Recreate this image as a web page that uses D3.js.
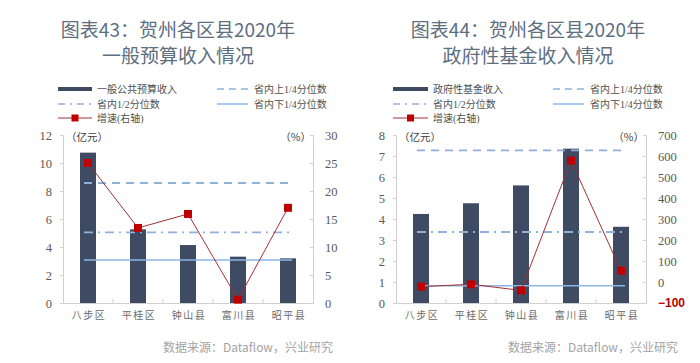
<!DOCTYPE html>
<html>
<head>
<meta charset="utf-8">
<script src="https://cdn.jsdelivr.net/npm/d3@7"></script>
<style>
  body { margin: 0; background: #fff; }
  svg { display: block; }
  .title { font-family: "Noto Sans CJK SC", "Noto Sans", sans-serif; font-size: 19px; fill: #5d6e7f; text-anchor: middle; }
  .legend text { font-family: "Liberation Serif", "Noto Sans CJK SC", serif; font-size: 10px; fill: #505050; }
  .unit { font-family: "Noto Sans CJK SC", sans-serif; font-size: 10.5px; fill: #404040; }
  .source { font-family: "Noto Sans CJK SC", "Noto Sans", sans-serif; font-size: 12px; fill: #a3a3a3; text-anchor: end; }
</style>
</head>
<body>
<script>
// ---- data ----
const districts = ['八步区', '平桂区', '钟山县', '富川县', '昭平县'];

const budgetIncome = [10.74, 5.26, 4.14, 3.31, 3.19];     // 亿元
const budgetGrowth = [25.0, 13.4, 15.9, 0.6, 17.0];       // %
const budgetQuartiles = [8.57, 5.04, 3.07];               // upper, median, lower
const budgetLeftTicks = [0, 2, 4, 6, 8, 10, 12];
const budgetRightTicks = [0, 5, 10, 15, 20, 25, 30];

const fundIncome = [4.24, 4.75, 5.6, 7.35, 3.63];
const fundGrowth = [-22, -11, -40, 578, 54];
const fundQuartiles = [7.27, 3.38, 0.82];
const fundLeftTicks = [0, 1, 2, 3, 4, 5, 6, 7, 8];
const fundRightTicks = [-100, 0, 100, 200, 300, 400, 500, 600, 700];

const W = 700, H = 363;
const BAR_COLOR = '#3e4b63';
const LINE_COLOR = '#a33034';
const MARK_COLOR = '#c00000';
const AXIS_COLOR = '#d0d0d0';

const svg = d3.select('body').append('svg')
    .attr('width', W)
    .attr('height', H);

function drawChart(cfg) {
    const g = svg.append('g');
    const m = cfg.plot; // left, right, top, bottom

    // titles
    cfg.titles.forEach((t, i) => {
        g.append('text').attr('class', 'title')
            .attr('x', cfg.titleX).attr('y', 37 + i * 26)
            .text(t);
    });

    const x = d3.scaleBand().domain(districts).range([m.left, m.right]);
    const yL = d3.scaleLinear().domain(d3.extent(cfg.leftTicks)).range([m.bottom, m.top]);
    const yR = d3.scaleLinear().domain(d3.extent(cfg.rightTicks)).range([m.bottom, m.top]);

    // axes
    const leftAxis = g.append('g').attr('transform', `translate(${m.left},0)`)
        .call(d3.axisLeft(yL).tickValues(cfg.leftTicks).tickSize(3).tickPadding(8).tickFormat(d3.format('d')));
    const rightAxis = g.append('g').attr('transform', `translate(${m.right},0)`)
        .call(d3.axisRight(yR).tickValues(cfg.rightTicks).tickSize(-3).tickPadding(12).tickFormat(d3.format('d')));
    const bottomAxis = g.append('g').attr('transform', `translate(0,${m.bottom})`)
        .call(d3.axisBottom(x).tickSize(0).tickPadding(9));

    [leftAxis, rightAxis, bottomAxis].forEach(a => {
        a.select('.domain').attr('stroke', AXIS_COLOR);
        a.selectAll('.tick line').attr('stroke', AXIS_COLOR);
    });
    [leftAxis, rightAxis].forEach(a => {
        a.selectAll('.tick text')
            .style('font-family', '"Liberation Serif", "DejaVu Serif", serif')
            .style('font-size', '12.5px')
            .style('fill', '#595959');
    });
    bottomAxis.selectAll('.tick text')
        .style('font-family', '"Noto Sans CJK SC", sans-serif')
        .style('font-size', '10px')
        .style('letter-spacing', '1.5px')
        .style('fill', '#6a6a6a')
        .attr('dx', '0.1em');
    // category separator ticks
    bottomAxis.selectAll('.sep')
        .data(districts.slice(1))
        .enter().append('line')
        .attr('x1', d => x(d)).attr('x2', d => x(d))
        .attr('y1', 0).attr('y2', -4)
        .attr('stroke', AXIS_COLOR);

    if (cfg.redNegative) {
        rightAxis.selectAll('.tick text')
            .filter(d => d < 0)
            .style('fill', '#c00000')
            .style('font-family', '"Liberation Sans", Arial, sans-serif')
            .style('font-weight', 'bold')
            .style('font-size', '12px');
    }

    // units
    g.append('text').attr('class', 'unit').attr('x', m.left + 3).attr('y', m.top + 6).text('（亿元）');
    g.append('text').attr('class', 'unit').attr('x', m.right - 2).attr('y', m.top + 6)
        .attr('text-anchor', 'end').text('（%）');

    // bars
    const bw = 16;
    g.append('g').selectAll('rect')
        .data(cfg.income)
        .enter().append('rect')
        .attr('x', (d, i) => x(districts[i]) + x.bandwidth() / 2 - bw / 2)
        .attr('y', d => yL(d))
        .attr('width', bw)
        .attr('height', d => yL(0) - yL(d))
        .attr('fill', BAR_COLOR);

    // quartile lines
    const x0 = x(districts[0]) + x.bandwidth() / 2;
    const x1 = x(districts[districts.length - 1]) + x.bandwidth() / 2;
    const qStyles = [
        { dash: '8,6', color: '#8fb1da', width: 1.8 },
        { dash: '9,5,2,5', color: '#8fb1da', width: 1.8 },
        { dash: null, color: '#8db6e4', width: 1.6 }
    ];
    g.append('g').selectAll('line')
        .data(cfg.quartiles)
        .enter().append('line')
        .attr('x1', x0 - 4).attr('x2', x1 + 4)
        .attr('y1', d => yL(d)).attr('y2', d => yL(d))
        .attr('stroke', (d, i) => qStyles[i].color)
        .attr('stroke-width', (d, i) => qStyles[i].width)
        .attr('stroke-dasharray', (d, i) => qStyles[i].dash);

    // growth line
    const line = d3.line()
        .x((d, i) => x(districts[i]) + x.bandwidth() / 2)
        .y(d => yR(d));
    g.append('path')
        .datum(cfg.growth)
        .attr('d', line)
        .attr('fill', 'none')
        .attr('stroke', LINE_COLOR)
        .attr('stroke-width', 1);
    const ms = 8;
    g.append('g').selectAll('rect')
        .data(cfg.growth)
        .enter().append('rect')
        .attr('x', (d, i) => x(districts[i]) + x.bandwidth() / 2 - ms / 2)
        .attr('y', d => yR(d) - ms / 2)
        .attr('width', ms).attr('height', ms)
        .attr('fill', MARK_COLOR);

    // legend
    const lg = g.append('g').attr('class', 'legend');
    const L = cfg.legend;
    const rows = [89, 104, 118];
    lg.append('rect').attr('x', L.c1).attr('y', rows[0] - 2).attr('width', L.sw).attr('height', 4).attr('fill', BAR_COLOR);
    lg.append('text').attr('x', L.c1 + L.sw + 5).attr('y', rows[0] + 3.5).text(cfg.barLabel);
    lg.append('line').attr('x1', L.c2).attr('x2', L.c2 + 31).attr('y1', rows[0]).attr('y2', rows[0])
        .attr('stroke', qStyles[0].color).attr('stroke-width', 1.5).attr('stroke-dasharray', '7,5');
    lg.append('text').attr('x', L.c2 + 37).attr('y', rows[0] + 3.5).text('省内上1/4分位数');
    lg.append('line').attr('x1', L.c1).attr('x2', L.c1 + L.sw).attr('y1', rows[1]).attr('y2', rows[1])
        .attr('stroke', qStyles[1].color).attr('stroke-width', 1.5).attr('stroke-dasharray', '7,5,2,5');
    lg.append('text').attr('x', L.c1 + L.sw + 5).attr('y', rows[1] + 3.5).text('省内1/2分位数');
    lg.append('line').attr('x1', L.c2).attr('x2', L.c2 + 31).attr('y1', rows[1]).attr('y2', rows[1])
        .attr('stroke', qStyles[2].color).attr('stroke-width', 1.5);
    lg.append('text').attr('x', L.c2 + 37).attr('y', rows[1] + 3.5).text('省内下1/4分位数');
    lg.append('line').attr('x1', L.c1).attr('x2', L.c1 + L.sw).attr('y1', rows[2]).attr('y2', rows[2])
        .attr('stroke', LINE_COLOR).attr('stroke-width', 1);
    lg.append('rect').attr('x', L.c1 + L.sw / 2 - 3.5).attr('y', rows[2] - 3.5).attr('width', 7).attr('height', 7).attr('fill', MARK_COLOR);
    lg.append('text').attr('x', L.c1 + L.sw + 5).attr('y', rows[2] + 3.5).text('增速(右轴)');

    // source
    g.append('text').attr('class', 'source').attr('x', cfg.sourceX).attr('y', 352)
        .text('数据来源：Dataflow，兴业研究');
}

drawChart({
    titles: ['图表43：贺州各区县2020年', '一般预算收入情况'],
    titleX: 178,
    plot: { left: 63, right: 313, top: 135, bottom: 303 },
    income: budgetIncome,
    growth: budgetGrowth,
    quartiles: budgetQuartiles,
    leftTicks: budgetLeftTicks,
    rightTicks: budgetRightTicks,
    barLabel: '一般公共预算收入',
    legend: { c1: 58, sw: 34, c2: 217 },
    sourceX: 333,
    redNegative: false
});

drawChart({
    titles: ['图表44：贺州各区县2020年', '政府性基金收入情况'],
    titleX: 528,
    plot: { left: 396, right: 646, top: 135, bottom: 303 },
    income: fundIncome,
    growth: fundGrowth,
    quartiles: fundQuartiles,
    leftTicks: fundLeftTicks,
    rightTicks: fundRightTicks,
    barLabel: '政府性基金收入',
    legend: { c1: 393, sw: 35, c2: 553 },
    sourceX: 678,
    redNegative: true
});
</script>
</body>
</html>
